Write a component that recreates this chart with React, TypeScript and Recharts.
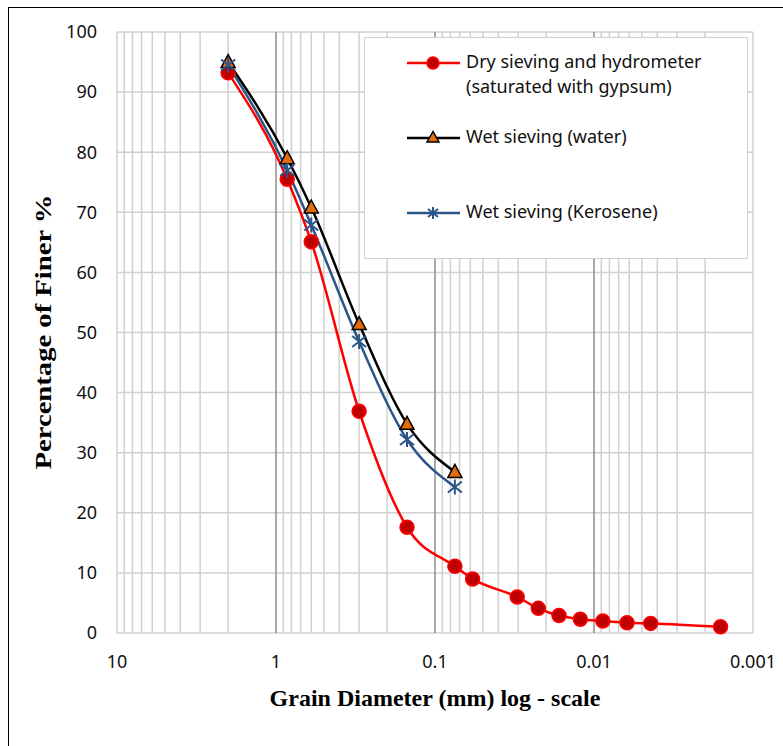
import React from 'react';
import { LineChart, Line, XAxis, YAxis, CartesianGrid, Label } from 'recharts';

// grain sizes (mm)
const sieveSizes = [2, 0.85, 0.6, 0.3, 0.15, 0.075];
const hydroSizes = [0.058, 0.0304, 0.0224, 0.0166, 0.0122, 0.0088, 0.0062, 0.0044, 0.0016];

// percentage finer
const dryFiner = [93.2, 75.5, 65.1, 36.9, 17.6, 11.1, 9.0, 6.0, 4.1, 2.9, 2.3, 2.0, 1.7, 1.6, 1.05];
const waterFiner = [95, 79, 70.8, 51.4, 34.8, 26.8];
const keroseneFiner = [94.5, 77, 67.9, 48.5, 32.2, 24.3];

const seriesNames = [
  ['Dry sieving and hydrometer', '(saturated with gypsum)'],
  ['Wet sieving (water)'],
  ['Wet sieving (Kerosene)'],
];

const xTicks = [10, 1, 0.1, 0.01, 0.001];
const yTicks = [0, 10, 20, 30, 40, 50, 60, 70, 80, 90, 100];
const majorLines = [1, 0.1, 0.01];
const minorLines = [10, 0.001];
[1, 0.1, 0.01, 0.001].forEach(d => {
  for (let m = 2; m <= 9; m++) minorLines.push(+(d * m).toPrecision(3));
});

const dryData = [...sieveSizes, ...hydroSizes].map((x, i) => ({ x, y: dryFiner[i] }));
const waterData = sieveSizes.map((x, i) => ({ x, y: waterFiner[i] }));
const keroseneData = sieveSizes.map((x, i) => ({ x, y: keroseneFiner[i] }));

const RED = '#ff0000';
const BLUE = '#2b5589';
const ORANGE = '#e46c0a';
const FONT = '"Noto Sans", sans-serif';

const Circle = (p: any) => (
  <circle key={p.index} cx={p.cx} cy={p.cy} r={7} fill="#c00000" stroke={RED} strokeWidth={1.5} />
);
const Triangle = (p: any) => (
  <polygon
    key={p.index}
    points={`${p.cx},${p.cy - 7.5} ${p.cx - 7},${p.cy + 5.5} ${p.cx + 7},${p.cy + 5.5}`}
    fill={ORANGE}
    stroke="#000"
    strokeWidth={1.5}
  />
);
const Star = (p: any) => (
  <g key={p.index} stroke={BLUE} strokeWidth={2}>
    <line x1={p.cx - 7} y1={p.cy - 5.5} x2={p.cx + 7} y2={p.cy + 5.5} />
    <line x1={p.cx - 7} y1={p.cy + 5.5} x2={p.cx + 7} y2={p.cy - 5.5} />
    <line x1={p.cx} y1={p.cy - 7.5} x2={p.cx} y2={p.cy + 7.5} />
  </g>
);

const gridGen = (vals: number[]) => (props: any) => {
  const { xAxis, offset } = props;
  if (xAxis && typeof xAxis.scale === 'function') return vals.map(v => xAxis.scale(v));
  return vals.map(v => offset.left + (offset.width * (1 - Math.log10(v))) / 4);
};

const legendMarkers = [
  { color: RED, dot: <circle cx={26} cy={8} r={6} fill="#c00000" stroke={RED} strokeWidth={1.5} /> },
  { color: '#000', dot: <polygon points="26,1.5 20,12 32,12" fill={ORANGE} stroke="#000" strokeWidth={1.5} /> },
  {
    color: BLUE,
    dot: (
      <g stroke={BLUE} strokeWidth={2}>
        <line x1={21} y1={4} x2={31} y2={12} />
        <line x1={21} y1={12} x2={31} y2={4} />
        <line x1={26} y1={2} x2={26} y2={14} />
      </g>
    ),
  },
];
const legendRows = [62, 137, 212];

const App: React.FC = () => {
  return (
    <div style={{ position: 'absolute', left: 0, top: 0, width: 783, height: 746, background: '#fff', overflow: 'hidden' }}>
      <div style={{ position: 'absolute', left: 8, top: 7, width: 800, height: 800, borderTop: '1.5px solid #000', borderLeft: '1.5px solid #000' }} />
      <div style={{ position: 'absolute', left: 0, top: 0 }}>
        <LineChart width={783} height={746} margin={{ top: 32, right: 30, left: 0, bottom: 0 }}>
          <CartesianGrid
            stroke="#d0d0d0"
            strokeWidth={1.5}
            verticalCoordinatesGenerator={gridGen(minorLines)}
          />
          <CartesianGrid
            stroke="#8c8c8c"
            strokeWidth={1.5}
            horizontal={false}
            verticalCoordinatesGenerator={gridGen(majorLines)}
          />
          <XAxis
            dataKey="x"
            type="number"
            scale="log"
            domain={[0.001, 10]}
            reversed
            allowDataOverflow
            ticks={xTicks}
            tickFormatter={(v: number) => String(v)}
            axisLine={false}
            tickLine={false}
            tickSize={0}
            tickMargin={22}
            height={113}
            tick={{ fontFamily: FONT, fontSize: 18, fill: '#111' }}
          >
            <Label
              content={() => (
                <text x={435} y={706} textAnchor="middle" fontFamily='"Liberation Serif", serif' fontWeight="bold" fontSize={24} fill="#000">
                  Grain Diameter (mm) log - scale
                </text>
              )}
            />
          </XAxis>
          <YAxis
            type="number"
            domain={[0, 100]}
            ticks={yTicks}
            width={117}
            axisLine={false}
            tickLine={false}
            tickSize={0}
            tickMargin={20}
            tick={{ fontFamily: FONT, fontSize: 18, fill: '#111' }}
          >
            <Label
              content={() => (
                <text
                  x={43}
                  y={332}
                  transform="rotate(-90 43 332)"
                  textAnchor="middle"
                  dominantBaseline="central"
                  fontFamily='"Liberation Serif", serif'
                  fontWeight="bold"
                  fontSize={23}
                  textLength={275}
                  lengthAdjust="spacingAndGlyphs"
                  fill="#000"
                >
                  Percentage of Finer %
                </text>
              )}
            />
          </YAxis>
          <Line data={dryData} dataKey="y" type="monotone" stroke={RED} strokeWidth={2.5} dot={Circle} activeDot={false} isAnimationActive={false} />
          <Line data={waterData} dataKey="y" type="monotone" stroke="#000" strokeWidth={2.5} dot={Triangle} activeDot={false} isAnimationActive={false} />
          <Line data={keroseneData} dataKey="y" type="monotone" stroke={BLUE} strokeWidth={2.5} dot={Star} activeDot={false} isAnimationActive={false} />
        </LineChart>
      </div>
      <div style={{ position: 'absolute', left: 364, top: 37, width: 384, height: 222, background: '#fff', border: '1.5px solid #d0d0d0', boxSizing: 'border-box' }}>
        {seriesNames.map((lines, i) => (
          <div key={i} style={{ position: 'absolute', left: 42, top: legendRows[i] - 37 - 14, display: 'flex', alignItems: 'flex-start' }}>
            <svg width={54} height={16} style={{ marginTop: 6, marginRight: 5 }}>
              <line x1={0} y1={8} x2={53} y2={8} stroke={legendMarkers[i].color} strokeWidth={2.5} />
              {legendMarkers[i].dot}
            </svg>
            <div style={{ fontFamily: FONT, fontSize: 18, lineHeight: '25px', color: '#111', whiteSpace: 'nowrap' }}>
              {lines.map((t, j) => (
                <div key={j}>{t}</div>
              ))}
            </div>
          </div>
        ))}
      </div>
    </div>
  );
};

export default App;
